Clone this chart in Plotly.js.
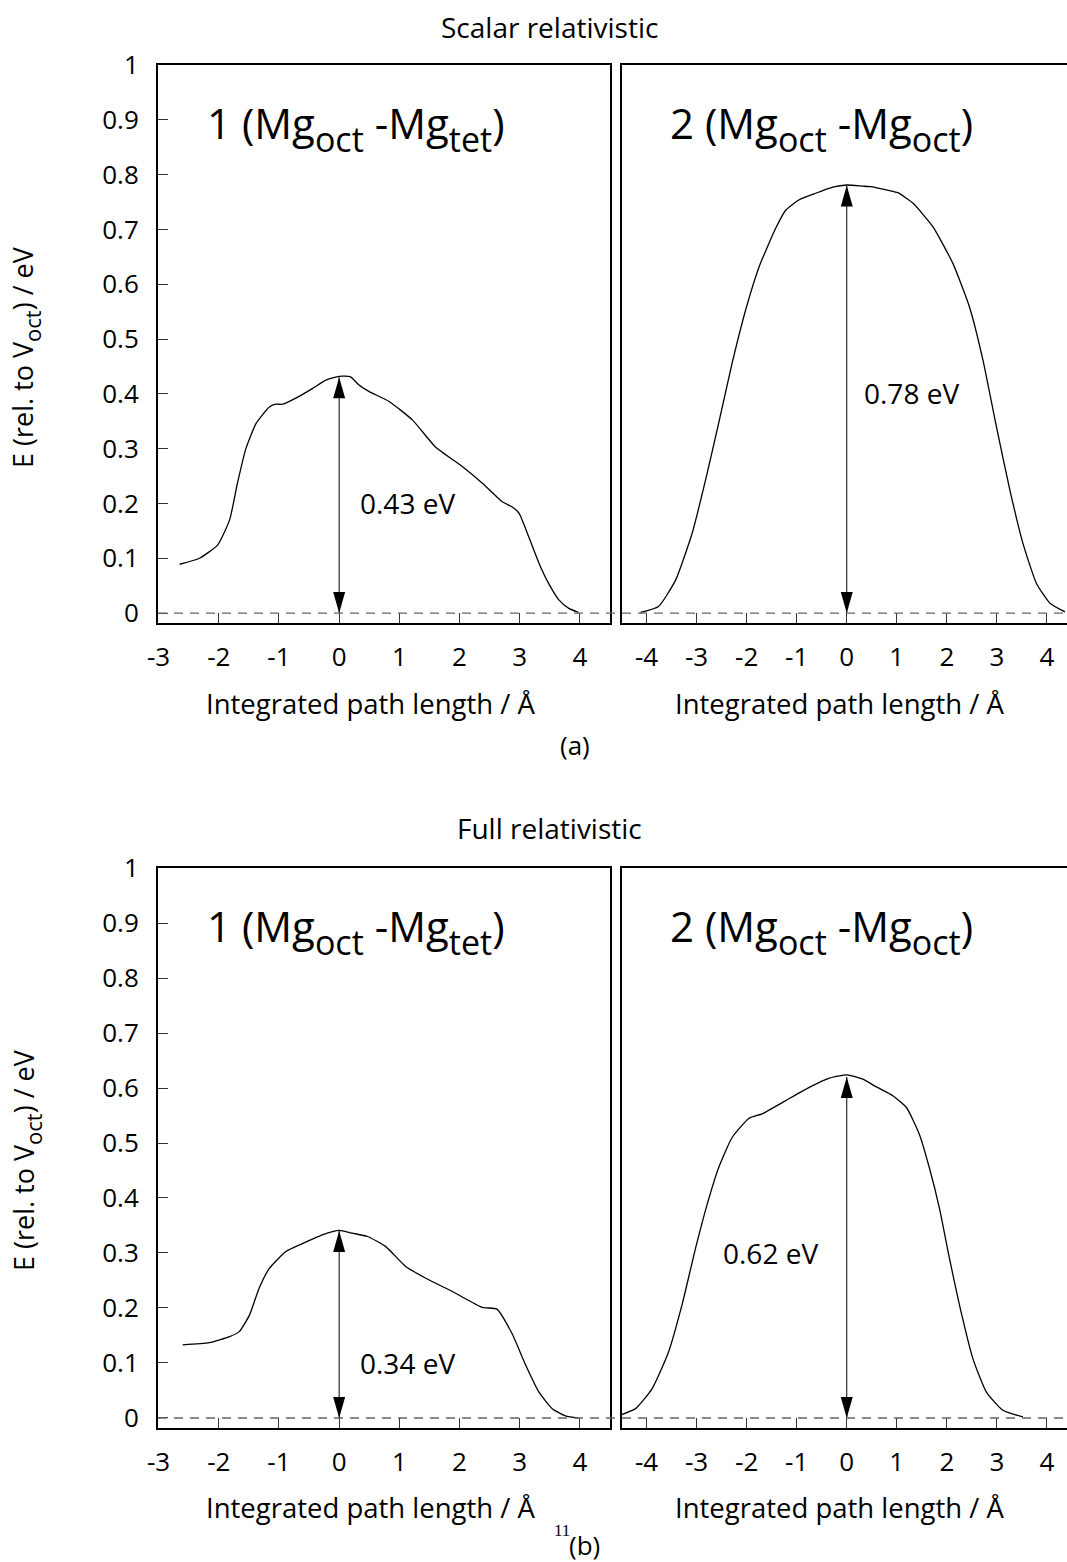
<!DOCTYPE html>
<html>
<head>
<meta charset="utf-8">
<script src="https://cdn.plot.ly/plotly-3.0.1.min.js"></script>
<style>html,body{margin:0;padding:0;background:#fff;}#chart{width:1067px;height:1562px;}</style>
</head>
<body>
<div id="chart"></div>
<script>
// ---------- data ----------
const scalarX1 = [-2.65,-2.32,-2.02,-1.82,-1.69,-1.55,-1.38,-1.16,-1.05,-0.94,-0.72,-0.44,-0.22,0.0,0.19,0.33,0.50,0.83,1.22,1.60,2.05,2.38,2.71,2.87,2.99,3.15,3.32,3.48,3.65,3.81,3.98];
const scalarE1 = [0.089,0.100,0.124,0.170,0.237,0.300,0.346,0.376,0.381,0.381,0.392,0.410,0.425,0.432,0.431,0.416,0.404,0.386,0.352,0.303,0.267,0.237,0.203,0.194,0.182,0.139,0.091,0.054,0.024,0.009,0.001];
const scalarX2 = [-4.12,-3.76,-3.42,-3.09,-2.82,-2.56,-2.29,-2.02,-1.75,-1.42,-1.22,-0.95,-0.62,-0.28,0.0,0.32,0.48,0.79,1.02,1.32,1.72,2.12,2.45,2.72,2.99,3.26,3.52,3.79,4.06,4.36];
const scalarE2 = [0.001,0.012,0.060,0.145,0.243,0.346,0.456,0.553,0.632,0.702,0.735,0.754,0.766,0.777,0.781,0.779,0.778,0.772,0.767,0.748,0.705,0.638,0.559,0.462,0.340,0.224,0.127,0.054,0.018,0.002];
const fullX1 = [-2.60,-2.16,-1.82,-1.66,-1.49,-1.33,-1.16,-0.88,-0.61,-0.28,0.0,0.22,0.47,0.77,1.10,1.44,1.88,2.38,2.62,2.87,3.10,3.32,3.54,3.76,3.98];
const fullE1 = [0.133,0.137,0.148,0.157,0.187,0.236,0.272,0.303,0.317,0.333,0.341,0.336,0.330,0.312,0.276,0.254,0.230,0.201,0.198,0.154,0.096,0.047,0.017,0.004,0.000];
const fullX2 = [-4.53,-4.22,-3.89,-3.56,-3.29,-3.02,-2.79,-2.56,-2.29,-1.95,-1.69,-1.22,-0.75,-0.35,0.0,0.32,0.59,0.92,1.19,1.45,1.65,1.85,2.05,2.25,2.52,2.79,3.12,3.52];
const fullE2 = [0.005,0.017,0.053,0.120,0.206,0.309,0.388,0.455,0.510,0.545,0.553,0.577,0.601,0.618,0.624,0.616,0.602,0.586,0.565,0.516,0.455,0.382,0.291,0.206,0.108,0.047,0.014,0.002];

const barrierValues = [0.43, 0.78, 0.34, 0.62];
const barrierLabels = ['0.43 eV', '0.78 eV', '0.34 eV', '0.62 eV'];
const sectionTitles = ['Scalar relativistic', 'Full relativistic'];
const sectionTags = ['(a)', '(b)'];
const xTitle = 'Integrated path length / Å';

// subscript helper (lowered, slightly smaller text span)
const sub = (t, size, shift) => '<span style="font-size:' + size + 'px;baseline-shift:-' + shift + 'px">' + t + '</span>';
const panelLabels = ['1 (Mg' + sub('oct', 34, 13) + ' -Mg' + sub('tet', 34, 13) + ')',
                     '2 (Mg' + sub('oct', 34, 13) + ' -Mg' + sub('oct', 34, 13) + ')',
                     '1 (Mg' + sub('oct', 34, 13) + ' -Mg' + sub('tet', 34, 13) + ')',
                     '2 (Mg' + sub('oct', 34, 13) + ' -Mg' + sub('oct', 34, 13) + ')'];
const yTitle = 'E (rel. to V' + sub('oct', 22, 8) + ') / eV';

const xTickVals1 = [-3,-2,-1,0,1,2,3,4];
const xTickText1 = ['-3','-2','-1','0','1','2','3','4'];
const xTickVals2 = [-4,-3,-2,-1,0,1,2,3,4];
const xTickText2 = ['-4','-3','-2','-1','0','1','2','3','4'];
const yTickVals = [0,0.1,0.2,0.3,0.4,0.5,0.6,0.7,0.8,0.9,1];
const yTickText = ['0','0.1','0.2','0.3','0.4','0.5','0.6','0.7','0.8','0.9','1'];

// ---------- layout helpers ----------
const W = 1067, H = 1562;
const px = x => x / W;
const py = y => 1 - y / H;
const FONT = 'Open Sans, Noto Sans, sans-serif';

const curves = [[scalarX1, scalarE1], [scalarX2, scalarE2], [fullX1, fullE1], [fullX2, fullE2]];
const axisIds = [['x','y'], ['x2','y2'], ['x3','y3'], ['x4','y4']];

const traces = [];
curves.forEach((c, i) => {
  traces.push({x: c[0], y: c[1], xaxis: axisIds[i][0], yaxis: axisIds[i][1], type: 'scatter', mode: 'lines',
    line: {color: '#000', width: 1.3, shape: 'spline', smoothing: 0.5}, hoverinfo: 'skip', showlegend: false});
  traces.push({x: [0, 0], y: [0, barrierValues[i]], xaxis: axisIds[i][0], yaxis: axisIds[i][1], type: 'scatter', mode: 'lines',
    line: {color: '#000', width: 1}, hoverinfo: 'skip', showlegend: false});
});

function xAxis(domain, range, vals, text, anchor) {
  return {domain: domain, range: range, anchor: anchor, tickvals: vals, ticktext: text,
    ticks: 'inside', ticklen: 10, tickwidth: 1, tickcolor: '#333',
    showline: true, linecolor: '#000', linewidth: 2, mirror: true,
    showgrid: false, zeroline: false, ticklabelstandoff: 10,
    tickfont: {family: FONT, size: 26, color: '#000'}, fixedrange: true};
}
function yAxis(domain, anchor, labels) {
  return {domain: domain, range: [-0.0182, 1.0], anchor: anchor, tickvals: yTickVals, ticktext: yTickText,
    ticks: labels ? 'inside' : '', ticklen: 10, tickwidth: 1, tickcolor: '#333', showticklabels: labels,
    showline: true, linecolor: '#000', linewidth: 2, mirror: true,
    showgrid: false, zeroline: false, ticklabelstandoff: 12,
    tickfont: {family: FONT, size: 26, color: '#000'}, fixedrange: true};
}

const dxL = [px(158), px(610)], dxR = [px(622), 1.0];
const dyT = [py(623), py(65)], dyB = [py(1428), py(868)];
const rangeL = [-3.01, 4.5], rangeR = [-4.49, 4.4];

const layout = {
  width: W, height: H, margin: {l: 0, r: 0, t: 0, b: 0},
  paper_bgcolor: '#fff', plot_bgcolor: '#fff', showlegend: false,
  font: {family: FONT, color: '#000'},
  xaxis: xAxis(dxL, rangeL, xTickVals1, xTickText1, 'y'),
  yaxis: yAxis(dyT, 'x', true),
  xaxis2: xAxis(dxR, rangeR, xTickVals2, xTickText2, 'y2'),
  yaxis2: yAxis(dyT, 'x2', false),
  xaxis3: xAxis(dxL, rangeL, xTickVals1, xTickText1, 'y3'),
  yaxis3: yAxis(dyB, 'x3', true),
  xaxis4: xAxis(dxR, rangeR, xTickVals2, xTickText2, 'y4'),
  yaxis4: yAxis(dyB, 'x4', false),
  shapes: [], annotations: []
};

// dashed zero lines spanning both panels
['y', 'y3'].forEach(yr => {
  layout.shapes.push({type: 'line', xref: 'paper', yref: yr, x0: px(158), x1: 1, y0: 0, y1: 0,
    line: {color: '#666', width: 1.3, dash: '9px,7px'}, layer: 'above'});
});
// arrow heads (pixel-sized, anchored at the data points)
axisIds.forEach((ax, i) => {
  const common = {type: 'path', xref: ax[0], yref: ax[1], xsizemode: 'pixel', ysizemode: 'pixel',
    xanchor: 0, fillcolor: '#000', line: {width: 0}, layer: 'above'};
  layout.shapes.push(Object.assign({}, common, {yanchor: barrierValues[i], path: 'M0,0 L-6,-21 L6,-21 Z'}));
  layout.shapes.push(Object.assign({}, common, {yanchor: 0, path: 'M0,0 L-6,21 L6,21 Z'}));
});

function addText(text, x, y, size, opts) {
  layout.annotations.push(Object.assign({text: text, x: px(x), y: py(y), xref: 'paper', yref: 'paper',
    showarrow: false, xanchor: 'center', yanchor: 'middle', font: {family: FONT, size: size, color: '#000'}}, opts || {}));
}
// section titles and tags
addText(sectionTitles[0], 549, 27, 28);
addText(sectionTags[0], 575, 745, 26);
addText(sectionTitles[1], 549, 828, 28);
addText(sectionTags[1], 584, 1545, 26);
addText('11', 562, 1530, 17, {font: {family: 'Liberation Serif, serif', size: 17, color: '#000'}});
// axis titles
addText(yTitle, 26, 357, 27, {textangle: -90});
addText(yTitle, 26, 1160, 27, {textangle: -90});
[703, 1507].forEach(y => { addText(xTitle, 371, y, 27.5); addText(xTitle, 840, y, 27.5); });
// panel labels
const panelPos = [[205, 128], [668, 128], [205, 931], [668, 931]];
panelPos.forEach((p, i) => addText(panelLabels[i], p[0], p[1], 42, {xanchor: 'left'}));
// barrier labels
const eVPos = [[358, 503], [862, 393], [358, 1363], [721, 1253]];
eVPos.forEach((p, i) => addText(barrierLabels[i], p[0], p[1], 28, {xanchor: 'left'}));

Plotly.newPlot('chart', traces, layout, {displayModeBar: false});
</script>
</body>
</html>
